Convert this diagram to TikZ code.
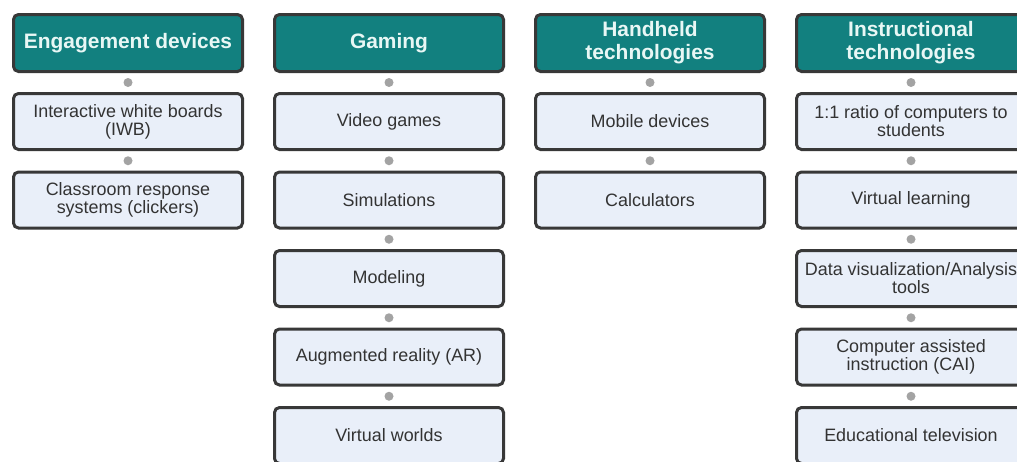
\documentclass[tikz,border=0pt]{standalone}
\usepackage{fontspec}
\setmainfont{Liberation Sans}
\definecolor{headteal}{HTML}{12807F}
\definecolor{headtext}{HTML}{E8F7F5}
\definecolor{itemfill}{HTML}{E9EFF9}
\definecolor{boxline}{HTML}{383838}
\definecolor{dotgray}{HTML}{A3A3A3}
\tikzset{
  head/.style={draw=boxline,fill=headteal,text=headtext,rounded corners=5bp,line width=3bp,
    minimum width=229bp,minimum height=57bp,inner sep=1bp,align=center,
    font=\bfseries\fontsize{21}{23}\selectfont},
  item/.style={draw=boxline,fill=itemfill,text=black!80,rounded corners=5bp,line width=3bp,
    minimum width=229bp,minimum height=56bp,inner sep=1bp,align=center,
    font=\fontsize{18}{18}\selectfont},
  joint/.style={circle,fill=dotgray,inner sep=0pt,minimum size=9bp},
}
\begin{document}
\begin{tikzpicture}
    \useasboundingbox (0bp,0bp) rectangle (1017bp,-462bp);
    \clip (0bp,0bp) rectangle (1017bp,-462bp);
    %%
    \node (e0) at (128bp,-43bp) [head] {Engagement devices};
    \node (e1) at (128bp,-121.5bp) [item] {Interactive white boards\\(IWB)};
    \node (e2) at (128bp,-200bp) [item] {Classroom response\\systems (clickers)};
    %
    \node (g0) at (389bp,-43bp) [head] {Gaming};
    \node (g1) at (389bp,-121.5bp) [item] {Video games};
    \node (g2) at (389bp,-200bp) [item] {Simulations};
    \node (g3) at (389bp,-278.5bp) [item] {Modeling};
    \node (g4) at (389bp,-357bp) [item] {Augmented reality (AR)};
    \node (g5) at (389bp,-435.5bp) [item] {Virtual worlds};
    %
    \node (h0) at (650bp,-43bp) [head] {Handheld\\technologies};
    \node (h1) at (650bp,-121.5bp) [item] {Mobile devices};
    \node (h2) at (650bp,-200bp) [item] {Calculators};
    %
    \node (i0) at (911bp,-43bp) [head] {Instructional\\technologies};
    \node (i1) at (911bp,-121.5bp) [item] {1:1 ratio of computers to\\students};
    \node (i2) at (911bp,-200bp) [item] {Virtual learning};
    \node (i3) at (911bp,-278.5bp) [item] {\makebox[200bp]{Data visualization/Analysis}\\tools};
    \node (i4) at (911bp,-357bp) [item] {Computer assisted\\instruction (CAI)};
    \node (i5) at (911bp,-435.5bp) [item] {Educational television};
    %
    \path (e0) -- (e1) node [joint,midway] {};
    \path (e1) -- (e2) node [joint,midway] {};
    \path (g0) -- (g1) node [joint,midway] {};
    \path (g1) -- (g2) node [joint,midway] {};
    \path (g2) -- (g3) node [joint,midway] {};
    \path (g3) -- (g4) node [joint,midway] {};
    \path (g4) -- (g5) node [joint,midway] {};
    \path (h0) -- (h1) node [joint,midway] {};
    \path (h1) -- (h2) node [joint,midway] {};
    \path (i0) -- (i1) node [joint,midway] {};
    \path (i1) -- (i2) node [joint,midway] {};
    \path (i2) -- (i3) node [joint,midway] {};
    \path (i3) -- (i4) node [joint,midway] {};
    \path (i4) -- (i5) node [joint,midway] {};
    %
\end{tikzpicture}
\end{document}
